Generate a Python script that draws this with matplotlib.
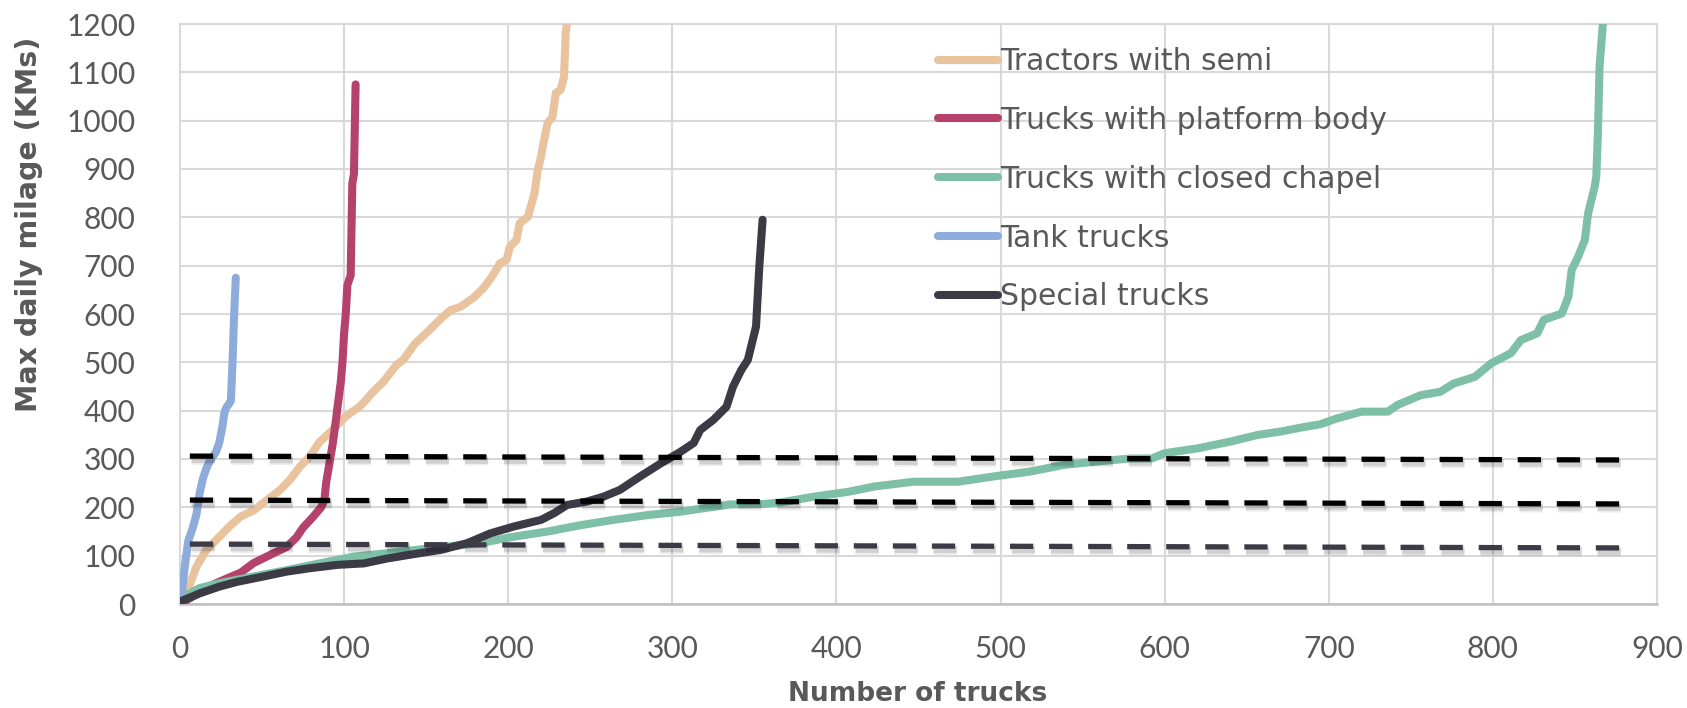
import matplotlib
matplotlib.use("Agg")
import matplotlib.pyplot as plt
import matplotlib.patheffects as pe

plt.rcParams['font.family'] = ['Lato', 'DejaVu Sans']

# ---- data ---------------------------------------------------------------
series_names = ["Tractors with semi", "Trucks with platform body",
                "Trucks with closed chapel", "Tank trucks", "Special trucks"]

tractors_x = [0, 4, 10, 16, 24, 30, 37, 45, 53, 61, 67, 73, 79, 85, 93, 101, 110,
              118, 124, 132, 136, 143, 152, 160, 165, 171, 179, 185, 190, 195, 199,
              201, 205, 207, 212, 216, 218, 220, 221, 224, 227, 229, 232, 234, 235, 238]
tractors_y = [0, 22, 77, 112, 139, 160, 181, 194, 215, 236, 257, 284, 305, 335, 360,
              388, 410, 440, 460, 495, 505, 538, 567, 594, 608, 615, 634, 654, 677,
              705, 712, 739, 753, 788, 801, 850, 898, 925, 946, 995, 1008, 1057,
              1064, 1091, 1181, 1260]

platform_x = [0, 5, 10, 20, 30, 37, 45, 57, 65, 71, 75, 81, 86, 88, 89, 91, 93,
              95, 96, 98, 99, 100, 101, 102, 103, 104, 105, 106, 107]
platform_y = [0, 10, 20, 40, 55, 65, 85, 105, 118, 138, 158, 180, 200, 215, 250,
              290, 330, 380, 408, 460, 500, 560, 600, 660, 670, 680, 870, 890, 1075]

chapel_x = [0, 2, 12, 24, 45, 65, 85, 106, 126, 152, 183, 203, 224, 244, 264, 285,
            305, 325, 335, 356, 366, 386, 407, 423, 447, 474, 496, 518, 539, 559,
            579, 592, 600, 620, 640, 657, 671, 683, 695, 705, 720, 736, 742, 756,
            768, 776, 789, 799, 811, 817, 827, 831, 842, 846, 848, 852, 856, 858,
            862, 863, 864, 865, 867, 868]
chapel_y = [0, 15, 33, 43, 57, 70, 84, 98, 105, 115, 126, 139, 150, 163, 174, 184,
            191, 201, 206, 207, 210, 222, 232, 243, 253, 253, 264, 274, 288, 295,
            301, 301, 312, 322, 336, 350, 357, 365, 372, 384, 398, 398, 412, 432,
            439, 456, 470, 498, 519, 546, 560, 588, 601, 636, 691, 719, 753, 808,
            863, 884, 974, 1112, 1200, 1260]

tank_x = [0, 1, 3, 5, 6, 8, 10, 12, 14, 16, 18, 20, 22, 24, 26, 27, 28, 30, 31,
          32, 33, 34]
tank_y = [0, 20, 80, 130, 140, 160, 185, 230, 260, 280, 295, 305, 315, 335, 370,
          395, 405, 415, 420, 500, 600, 675]

special_x = [0, 12, 24, 35, 51, 65, 79, 96, 112, 126, 142, 159, 175, 189, 203,
             220, 228, 236, 248, 258, 268, 280, 293, 305, 313, 317, 325, 333, 337,
             342, 346, 350, 351, 353, 355]
special_y = [5, 22, 36, 46, 57, 67, 74, 81, 84, 94, 103, 112, 126, 146, 160, 174,
             188, 205, 212, 222, 236, 263, 291, 315, 333, 360, 381, 408, 450, 484,
             505, 560, 574, 698, 795]

# reference levels (dashed), start and end values
ref_x = [6, 879]
ref_start = [306, 215, 124]
ref_end = [298, 207, 116]

x_ticks = list(range(0, 901, 100))
y_ticks = list(range(0, 1201, 100))

colors = ["#E8C39E", "#B5426A", "#7DBFA7", "#8EACDB", "#3C3A45"]
ref_colors = ["#000000", "#000000", "#3C3A45"]
text_color = "#595959"

# ---- figure -------------------------------------------------------------
W, H = 1687, 708
fig = plt.figure(figsize=(W / 100, H / 100), dpi=100)
fig.patch.set_facecolor("white")

ax = fig.add_axes([180 / W, 1 - 604 / H, (1657 - 180) / W, (604 - 24) / H])

all_series = [(tractors_x, tractors_y), (platform_x, platform_y),
              (chapel_x, chapel_y), (tank_x, tank_y), (special_x, special_y)]
handles = []
for (xs, ys), c, name in zip(all_series, colors, series_names):
    h, = ax.plot(xs, ys, color=c, lw=5.8, solid_capstyle="round",
                 solid_joinstyle="round", label=name, zorder=3)
    handles.append(h)

shadow = [pe.SimpleLineShadow(offset=(1.2, -2.5), shadow_color="k", alpha=0.07, linewidth=7.5),
          pe.SimpleLineShadow(offset=(1.2, -2.5), shadow_color="k", alpha=0.12, linewidth=5),
          pe.Normal()]
for s, e, c in zip(ref_start, ref_end, ref_colors):
    ax.plot(ref_x, [s, e], color=c, lw=3.8, linestyle=(0, (4.4, 3.0)),
            zorder=4, path_effects=shadow)

ax.set_xlim(0, 900)
ax.set_ylim(0, 1200)
ax.set_xticks(x_ticks)
ax.set_yticks(y_ticks)
ax.grid(True, color="#d9d9d9", lw=1.5, zorder=0)
ax.set_axisbelow(True)
for side in ["top", "right", "left"]:
    ax.spines[side].set_color("#d9d9d9")
    ax.spines[side].set_linewidth(1.5)
ax.spines["bottom"].set_color("#bfbfbf")
ax.spines["bottom"].set_linewidth(1.8)
ax.tick_params(length=0, labelsize=21.5, labelcolor=text_color)
ax.tick_params(axis="y", pad=32)
ax.tick_params(axis="x", pad=22)

fig.text(918 / W, 1 - 694 / H, "Number of trucks", ha="center", va="center",
         fontsize=19, fontweight="bold", color=text_color, family="DejaVu Sans")
fig.text(29 / W, 1 - 224 / H, "Max daily milage (KMs)", ha="center", va="center",
         rotation=90, fontsize=20.5, fontweight="bold", color=text_color,
         family="DejaVu Sans")

leg = ax.legend(handles=handles, loc="upper left",
                bbox_to_anchor=((938 - 180) / (1657 - 180), 1 - (47 - 24) / (604 - 24)),
                frameon=False, prop={"family": "DejaVu Sans", "size": 21.5},
                handlelength=2.0, handletextpad=0.07,
                labelspacing=1.0, borderaxespad=0, borderpad=0)
for t in leg.get_texts():
    t.set_color(text_color)

fig.savefig("out.png", dpi=100, facecolor="white")
